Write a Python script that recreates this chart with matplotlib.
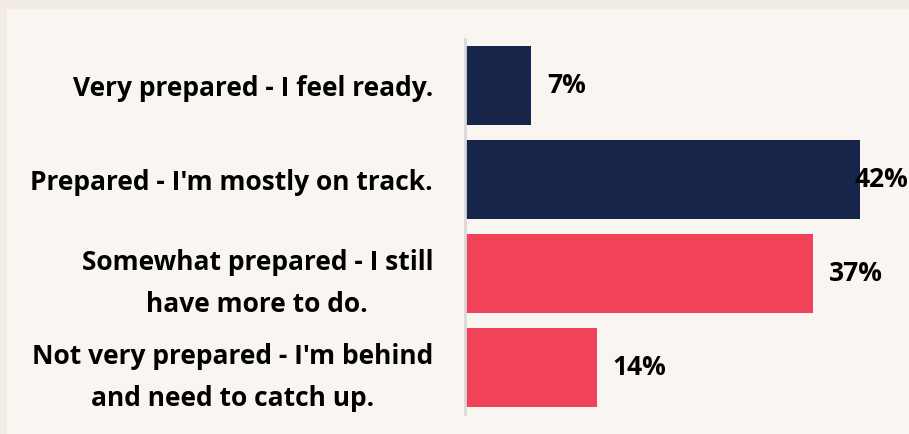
import matplotlib
matplotlib.use("Agg")
import matplotlib.pyplot as plt
from matplotlib.patches import Rectangle

categories = [
    "Very prepared - I feel ready.",
    "Prepared - I'm mostly on track.",
    "Somewhat prepared - I still\nhave more to do.",
    "Not very prepared - I'm behind\nand need to catch up.",
]
values = [7, 42, 37, 14]
colors = ["#17254B", "#17254B", "#F0435A", "#F0435A"]

plt.rcParams['font.family'] = ['Open Sans', 'DejaVu Sans']
FS = 19

W, H = 909, 434
fig = plt.figure(figsize=(W / 100, H / 100), dpi=100, facecolor="#F3EBE5")
# inner panel
fig.patches.append(Rectangle((7 / W, 0), 1 - 7 / W, (H - 9) / H,
                             transform=fig.transFigure, facecolor="#F9F6F2",
                             edgecolor="none", zorder=-1))

ax = fig.add_axes([465 / W, 20 / H, 444 / W, 375 / H])
ax.set_facecolor("none")

ypos = list(range(len(categories)))
ax.barh(ypos, values, height=0.845, color=colors)
ax.set_xlim(0, 444 / 9.4)
ax.set_ylim(3.5, -0.5)

ax.set_yticks(ypos)
ax.set_yticklabels(categories, fontsize=FS, fontweight="bold", color="#000000",
                   multialignment="center", linespacing=1.7)
ax.tick_params(axis="y", length=0, pad=23)
ax.set_xticks([])
for s in ["top", "right", "bottom"]:
    ax.spines[s].set_visible(False)
ax.spines["left"].set_color("#D9D9D9")
ax.spines["left"].set_linewidth(2)

fig.canvas.draw()
renderer = fig.canvas.get_renderer()
for y, v in zip(ypos, values):
    t = ax.annotate(f"{v}%", (v, y), xytext=(11.5, 0), textcoords="offset points",
                    ha="left", va="center", fontsize=FS, fontweight="bold",
                    color="#000000")
    bb = t.get_window_extent(renderer)
    if bb.x1 > W - 1:
        t.set_position((11.5 - (bb.x1 - (W - 1)) * 0.72, 0))

fig.savefig("out.png", dpi=100, facecolor=fig.get_facecolor())
